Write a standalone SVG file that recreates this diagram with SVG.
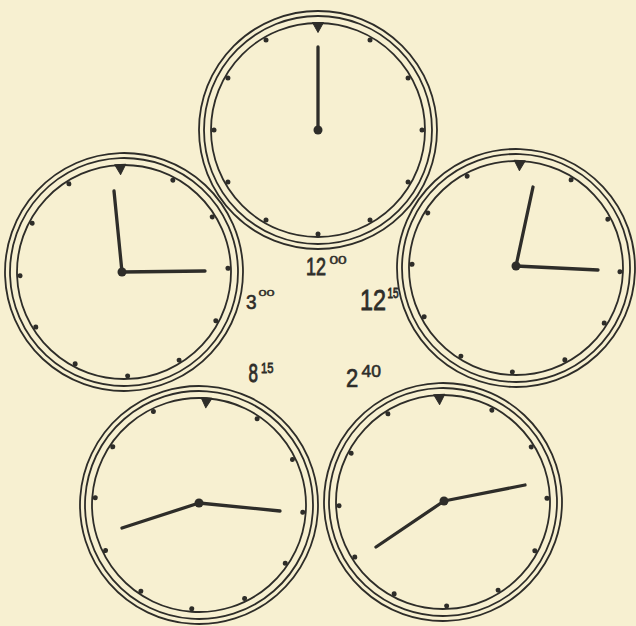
<svg xmlns="http://www.w3.org/2000/svg" xmlns:xlink="http://www.w3.org/1999/xlink" width="636" height="626" viewBox="0 0 636 626">
<style>
.ring{fill:none;stroke:#2e2d29;stroke-width:1.8}
.tick{fill:#2e2d29}
.hand{stroke:#2e2d29;stroke-width:3.3;stroke-linecap:round;fill:none}
.pivot{fill:#2e2d29}
.lbl{font-family:"Liberation Sans","DejaVu Sans",sans-serif;fill:#2e2d29;stroke:#2e2d29;stroke-width:0.6}
</style>
<defs>
<g id="face">
<circle class="ring" r="119"/>
<circle class="ring" r="114"/>
<circle class="ring" r="107"/>
<path class="tick" d="M-5.5,-107.5 L5.5,-107.5 L0,-97.5 Z" stroke="#2e2d29" stroke-width="1" stroke-linejoin="round"/>
<g class="tick">
<circle cx="52" cy="-90.07" r="2.5"/>
<circle cx="90.07" cy="-52" r="2.5"/>
<circle cx="104" cy="0" r="2.5"/>
<circle cx="90.07" cy="52" r="2.5"/>
<circle cx="52" cy="90.07" r="2.5"/>
<circle cx="0" cy="104" r="2.5"/>
<circle cx="-52" cy="90.07" r="2.5"/>
<circle cx="-90.07" cy="52" r="2.5"/>
<circle cx="-104" cy="0" r="2.5"/>
<circle cx="-90.07" cy="-52" r="2.5"/>
<circle cx="-52" cy="-90.07" r="2.5"/>
</g>
</g>
</defs>
<rect width="636" height="626" fill="#f7f0d1"/>
<g id="connectors"/>
<g id="clock-1200">
<use xlink:href="#face" transform="translate(318,130)"/>
<line class="hand" x1="318" y1="130" x2="318" y2="47"/>
<circle class="pivot" cx="318" cy="130" r="4.5"/>
<text class="lbl" transform="translate(306,275) scale(1,1.3)" font-size="18">12</text>
<text class="lbl" transform="translate(329.5,263.5) scale(1,0.65)" font-size="15.5">00</text>
</g>
<g id="clock-300">
<use xlink:href="#face" transform="translate(124,272) rotate(-2)"/>
<line class="hand" x1="122" y1="272" x2="114" y2="191"/>
<line class="hand" x1="122" y1="272" x2="205" y2="271"/>
<circle class="pivot" cx="122" cy="272" r="4.5"/>
<text class="lbl" transform="translate(246,308.5) scale(1,1.1)" font-size="19">3</text>
<text class="lbl" transform="translate(258.5,295.5) scale(1,0.65)" font-size="14.5">00</text>
</g>
<g id="clock-1215">
<use xlink:href="#face" transform="translate(516,268) rotate(2)"/>
<line class="hand" x1="516" y1="266" x2="533" y2="187"/>
<line class="hand" x1="516" y1="266" x2="598" y2="270"/>
<circle class="pivot" cx="516" cy="266" r="4.5"/>
<text class="lbl" transform="translate(360,309.7) scale(1,1.28)" font-size="23.4">12</text>
<text class="lbl" transform="translate(387.5,298) scale(1,1.55)" font-size="10">15</text>
</g>
<g id="clock-815">
<use xlink:href="#face" transform="translate(199,505) rotate(4)"/>
<line class="hand" x1="199" y1="503" x2="280" y2="511"/>
<line class="hand" x1="199" y1="503" x2="122" y2="528"/>
<circle class="pivot" cx="199" cy="503" r="4.5"/>
<text class="lbl" transform="translate(248.5,381.7) scale(1,1.5)" font-size="17">8</text>
<text class="lbl" transform="translate(261,373.3) scale(1,1.25)" font-size="11.2">15</text>
</g>
<g id="clock-240">
<use xlink:href="#face" transform="translate(443,502) rotate(-2)"/>
<line class="hand" x1="444" y1="501" x2="525" y2="485"/>
<line class="hand" x1="444" y1="501" x2="376" y2="547"/>
<circle class="pivot" cx="444" cy="501" r="4.5"/>
<text class="lbl" transform="translate(346,387) scale(1,1.19)" font-size="22">2</text>
<text class="lbl" transform="translate(361.5,377) scale(1,0.95)" font-size="17.5">40</text>
</g>
</svg>
